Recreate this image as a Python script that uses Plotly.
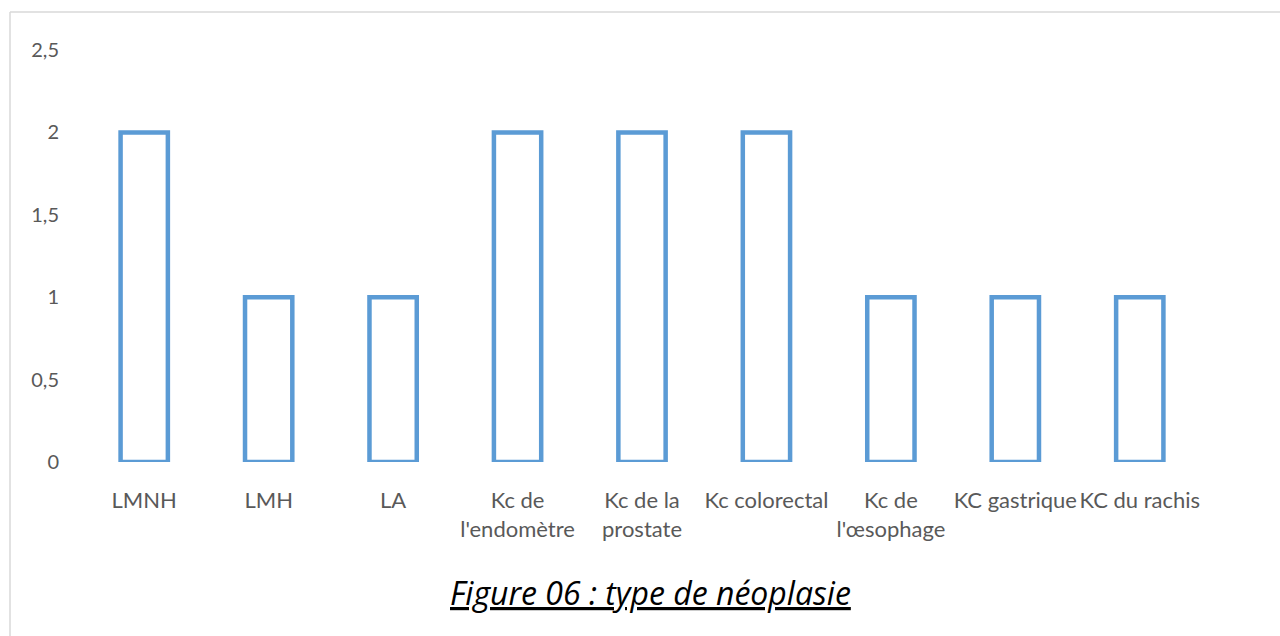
import plotly.graph_objects as go

# Category labels (line breaks as displayed under the axis)
categories = [
    "LMNH",
    "LMH",
    "LA",
    "Kc de<br>l'endomètre",
    "Kc de la<br>prostate",
    "Kc colorectal",
    "Kc de<br>l'œsophage",
    "KC gastrique",
    "KC du rachis",
]
counts = [2, 1, 1, 2, 2, 2, 1, 1, 1]

y_tick_values = [0, 0.5, 1, 1.5, 2, 2.5]
y_tick_labels = ["0", "0,5", "1", "1,5", "2", "2,5"]

title_text = "Figure 06 : type de néoplasie"

W, H = 1280, 636
ML, MR, MT, MB = 82, 78, 50, 174
plot_w = W - ML - MR
plot_h = H - MT - MB

font_family = "Lato, 'Open Sans', sans-serif"
label_color = "#595959"

fig = go.Figure(
    go.Bar(
        x=categories,
        y=counts,
        width=0.38,
        marker=dict(color="white", line=dict(color="#5B9BD5", width=4.5)),
        hoverinfo="x+y",
    )
)

# Outer frame of the chart area (only top and left edges are inside the page)
def px_to_paper_x(px):
    return (px - ML) / plot_w

def px_to_paper_y(py):
    return (H - MB - py) / plot_h

frame_color = "#D9D9D9"
fig.add_shape(type="line", xref="paper", yref="paper",
              x0=px_to_paper_x(10), x1=px_to_paper_x(W + 5),
              y0=px_to_paper_y(12), y1=px_to_paper_y(12),
              line=dict(color=frame_color, width=1.5))
fig.add_shape(type="line", xref="paper", yref="paper",
              x0=px_to_paper_x(10), x1=px_to_paper_x(10),
              y0=px_to_paper_y(12), y1=px_to_paper_y(H + 5),
              line=dict(color=frame_color, width=1.5))

fig.add_annotation(
    text=f"<i><u>{title_text}</u></i>",
    xref="paper", yref="paper",
    x=px_to_paper_x(650), y=px_to_paper_y(592),
    xanchor="center", yanchor="middle",
    showarrow=False,
    font=dict(family="'Open Sans', sans-serif", size=32, color="black"),
)

fig.update_layout(
    width=W, height=H,
    margin=dict(l=ML, r=MR, t=MT, b=MB, autoexpand=False),
    paper_bgcolor="white",
    plot_bgcolor="white",
    showlegend=False,
    bargap=0.62,
    font=dict(family=font_family, size=21, color=label_color),
    xaxis=dict(
        showgrid=False, showline=False, zeroline=False,
        ticks="", tickfont=dict(size=22, color=label_color),
        ticklabelstandoff=23,
    ),
    yaxis=dict(
        range=[0, 2.5],
        tickvals=y_tick_values, ticktext=y_tick_labels,
        showgrid=False, showline=False, zeroline=False,
        ticks="", tickfont=dict(size=20, color=label_color),
        ticklabelstandoff=22,
    ),
)

fig.write_html("out.html")
